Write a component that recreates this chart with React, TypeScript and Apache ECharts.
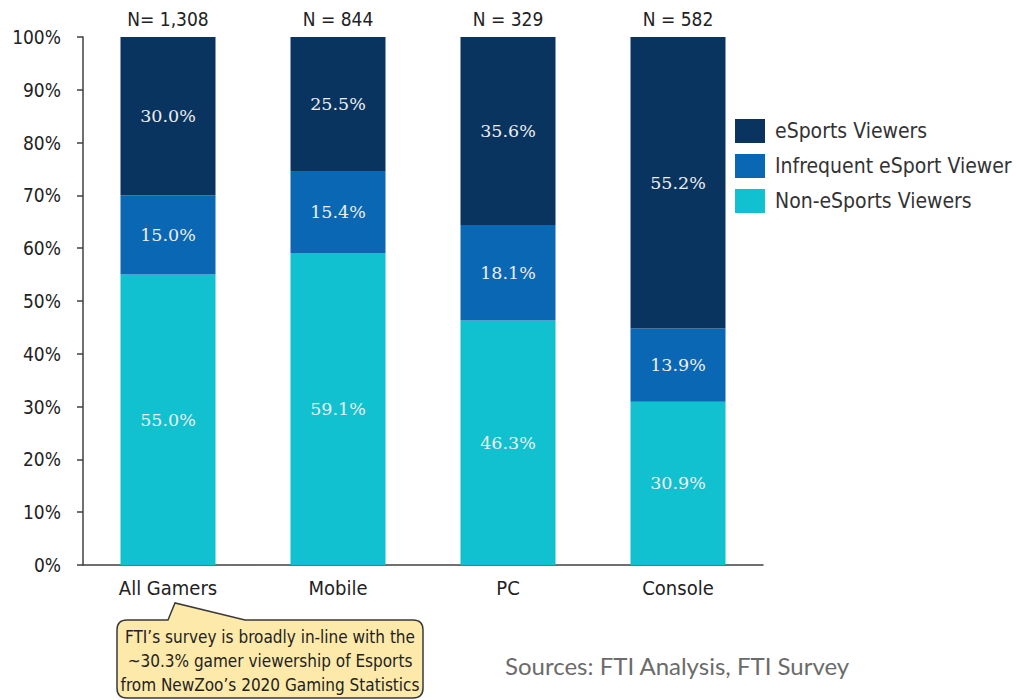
import React, { useEffect, useRef } from "react";
import * as echarts from "echarts";

const categories = ["All Gamers", "Mobile", "PC", "Console"];
const sampleLabels = ["N= 1,308", "N = 844", "N = 329", "N = 582"];
const nonViewers = [55.0, 59.1, 46.3, 30.9];
const infrequentViewers = [15.0, 15.4, 18.1, 13.9];
const esportsViewers = [30.0, 25.5, 35.6, 55.2];
const yTicks = { min: 0, max: 100, interval: 10 };
const calloutLines = [
  "FTI\u2019s survey is broadly in-line with the",
  "~30.3% gamer viewership of Esports",
  "from NewZoo\u2019s 2020 Gaming Statistics",
];
const sourceText = "Sources: FTI Analysis, FTI Survey";

const CAL = "'Liberation Sans Narrow', 'DejaVu Sans Condensed', 'Liberation Sans', sans-serif";
const SERIF = "'DejaVu Serif', serif";

echarts.graphic.registerShape(
  "callout",
  echarts.graphic.extendPath(
    "M127,620 L168,620 L175,603 L245,620 L413,620 Q423,620 423,630 L423,688 Q423,698 413,698 L127,698 Q117,698 117,688 L117,630 Q117,620 127,620 Z",
    {}
  )
);

export default function App() {
  const ref = useRef<HTMLDivElement>(null);
  useEffect(() => {
    const chart = echarts.init(ref.current!, null, { renderer: "svg" });
    const label = {
      show: true,
      position: "inside",
      color: "#eeeeee",
      fontFamily: SERIF,
      fontSize: 17.5,
      formatter: (p: any) => Number(p.value).toFixed(1) + "%",
    };
    const mk = (name: string, data: number[], color: string) => ({
      name,
      type: "bar",
      stack: "s",
      data,
      barWidth: 95,
      itemStyle: { color },
      label,
    });
    chart.setOption({
      animation: false,
      grid: { left: 83, right: 254, top: 37, bottom: 135 },
      legend: {
        orient: "vertical",
        left: 730,
        top: 114,
        itemWidth: 30,
        itemHeight: 24,
        itemGap: 11,
        icon: "rect",
        data: ["eSports Viewers", "Infrequent eSport Viewer", "Non-eSports Viewers"],
        textStyle: { fontFamily: CAL, fontSize: 21, color: "#333", padding: [0, 0, 0, 5] },
      },
      xAxis: [
        {
          type: "category",
          data: categories,
          axisLine: { lineStyle: { color: "#404040", width: 1.5 } },
          axisTick: { show: false },
          axisLabel: { fontFamily: CAL, fontSize: 20, color: "#222", margin: 13 },
        },
        {
          type: "category",
          position: "top",
          data: sampleLabels,
          axisLine: { show: false },
          axisTick: { show: false },
          axisLabel: { fontFamily: CAL, fontSize: 19, color: "#222", margin: 9 },
        },
      ],
      yAxis: {
        type: "value",
        min: yTicks.min,
        max: yTicks.max,
        interval: yTicks.interval,
        splitLine: { show: false },
        axisLine: { show: true, lineStyle: { color: "#404040", width: 1.5 } },
        axisTick: { show: true, length: 6, lineStyle: { color: "#404040", width: 1.5 } },
        axisLabel: {
          formatter: "{value}%",
          fontFamily: CAL,
          fontSize: 19,
          color: "#222",
          margin: 22,
        },
      },
      series: [
        mk("Non-eSports Viewers", nonViewers, "#12C1CF"),
        mk("Infrequent eSport Viewer", infrequentViewers, "#0A67B3"),
        mk("eSports Viewers", esportsViewers, "#0A3460"),
      ],
      graphic: [
        {
          type: "callout",
          x: 0,
          y: 0,
          style: { fill: "#FDE9A9", stroke: "#3a3a3a", lineWidth: 1.5 },
        },
        {
          type: "text",
          x: 270,
          y: 625,
          style: {
            text: calloutLines.join("\n"),
            fontFamily: CAL,
            fontSize: 17,
            lineHeight: 24,
            align: "center",
            verticalAlign: "top",
            fill: "#222",
          },
        },
        {
          type: "text",
          x: 505,
          y: 665,
          style: {
            text: sourceText,
            fontFamily: "Lato, sans-serif",
            fontSize: 24,
            fill: "#6b6b6b",
            verticalAlign: "middle",
          },
        },
      ],
    });
    return () => chart.dispose();
  }, []);
  return (
    <div
      ref={ref}
      style={{ position: "fixed", left: 0, top: 0, width: 1017, height: 700, background: "#fff" }}
    />
  );
}
